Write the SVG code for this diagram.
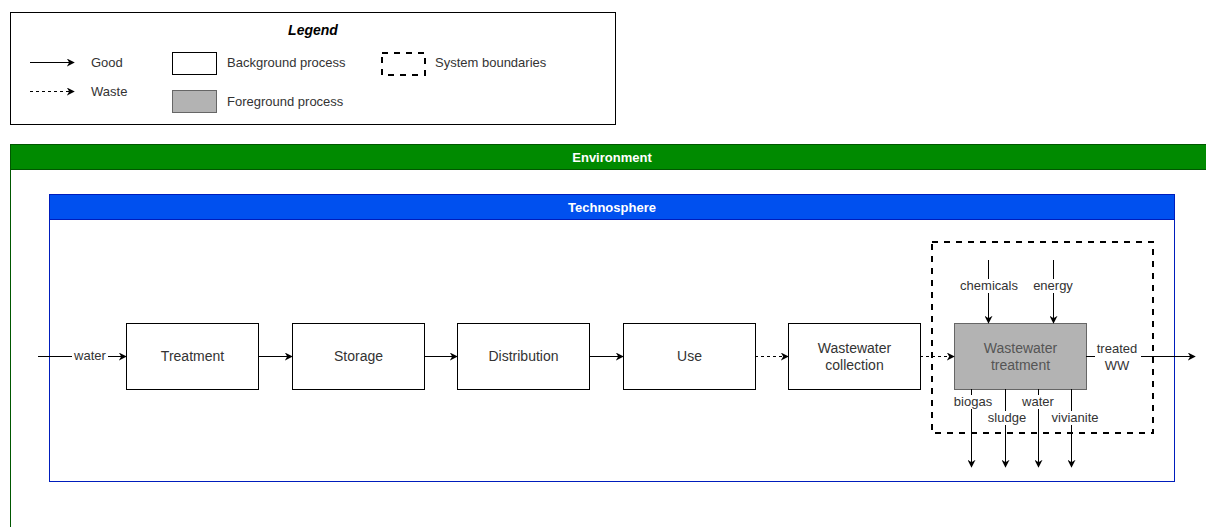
<svg xmlns="http://www.w3.org/2000/svg" width="1206" height="527" viewBox="0 0 1206 527">
  <defs>
    <style>
      text { font-family: "Liberation Sans", Arial, sans-serif; fill: #333; }
      .lbl { font-size: 13px; text-anchor: middle; }
      .node { font-size: 14px; text-anchor: middle; }
      .leg { font-size: 13px; }
      .hdr { font-size: 13px; font-weight: bold; fill: #fff; text-anchor: middle; }
      .box { fill: #fff; stroke: #000; stroke-width: 1; }
      .fg { fill: #b3b3b3; stroke: #666; stroke-width: 1; }
      .good { fill: none; stroke: #000; stroke-width: 1; marker-end: url(#arr); }
      .waste { fill: none; stroke: #000; stroke-width: 1; stroke-dasharray: 3 3; marker-end: url(#arr); }
      .bound { fill: none; stroke: #000; stroke-width: 2; stroke-dasharray: 6 6; }
      .bg { fill: #fff; }
    </style>
    <marker id="arr" viewBox="0 0 10 10" refX="9" refY="5" markerWidth="8" markerHeight="8" markerUnits="userSpaceOnUse" orient="auto">
      <path d="M0,0 L10,5 L0,10 L3,5 Z" fill="#000"/>
    </marker>
  </defs>

  <!-- legend -->
  <g id="legend">
    <rect x="10.5" y="12.5" width="605" height="112" fill="#fff" stroke="#000"/>
    <text x="313" y="35" style="font-size:14px;font-weight:bold;font-style:italic;fill:#000" text-anchor="middle">Legend</text>
    <path class="good" d="M30,62.5 H74"/>
    <text class="leg" x="91" y="67">Good</text>
    <path class="waste" d="M30,91.5 H74"/>
    <text class="leg" x="91" y="96">Waste</text>
    <rect class="box" x="172.5" y="52.5" width="44" height="22"/>
    <text class="leg" x="227" y="67">Background process</text>
    <rect class="fg" x="172.5" y="90.5" width="44" height="22"/>
    <text class="leg" x="227" y="106">Foreground process</text>
    <rect class="bound" x="382" y="53" width="43" height="22"/>
    <text class="leg" x="435" y="67">System boundaries</text>
  </g>

  <!-- environment container -->
  <g id="environment">
    <path d="M10.5,170 V527" stroke="#005700" stroke-width="1" fill="none"/>
    <rect x="10.5" y="144.5" width="1200" height="25" fill="#008a00" stroke="#005700"/>
    <text class="hdr" x="612" y="162">Environment</text>
  </g>

  <!-- technosphere container -->
  <g id="technosphere">
    <rect x="49.5" y="194.5" width="1125" height="287" fill="#fff" stroke="#001dbc"/>
    <rect x="49.5" y="194.5" width="1125" height="25" fill="#0050ef" stroke="#001dbc"/>
    <text class="hdr" x="612" y="212">Technosphere</text>
  </g>

  <!-- system boundary -->
  <g id="system-boundary">
    <rect class="bound" x="932" y="242" width="221" height="191"/>
  </g>

  <!-- process nodes -->
  <g id="treatment">
    <rect class="box" x="126.5" y="323.5" width="132" height="66"/>
    <text class="node" x="192.5" y="361">Treatment</text>
  </g>
  <g id="storage">
    <rect class="box" x="292.5" y="323.5" width="132" height="66"/>
    <text class="node" x="358.5" y="361">Storage</text>
  </g>
  <g id="distribution">
    <rect class="box" x="457.5" y="323.5" width="132" height="66"/>
    <text class="node" x="523.5" y="361">Distribution</text>
  </g>
  <g id="use">
    <rect class="box" x="623.5" y="323.5" width="132" height="66"/>
    <text class="node" x="689.5" y="361">Use</text>
  </g>
  <g id="ww-collection">
    <rect class="box" x="788.5" y="323.5" width="132" height="66"/>
    <text class="node" x="854.5" y="353">Wastewater</text>
    <text class="node" x="854.5" y="370">collection</text>
  </g>
  <g id="ww-treatment">
    <rect class="fg" x="954.5" y="323.5" width="132" height="66"/>
    <text class="node" x="1020.5" y="353" style="fill:#555">Wastewater</text>
    <text class="node" x="1020.5" y="370" style="fill:#555">treatment</text>
  </g>

  <!-- connectors -->
  <g id="connectors">
    <path class="good" d="M38,356.5 H126"/>
    <rect class="bg" x="72" y="349" width="36" height="14"/>
    <text class="lbl" x="90" y="360">water</text>

    <path class="good" d="M258,356.5 H292"/>
    <path class="good" d="M424,356.5 H457"/>
    <path class="good" d="M589,356.5 H623"/>
    <path class="waste" d="M755,356.5 H788"/>
    <path class="waste" d="M920,356.5 H954"/>

    <path class="good" d="M988.5,260 V323"/>
    <rect class="bg" x="956" y="279" width="66" height="14"/>
    <text class="lbl" x="989" y="290">chemicals</text>
    <path class="good" d="M1053.5,260 V323"/>
    <rect class="bg" x="1030" y="279" width="48" height="14"/>
    <text class="lbl" x="1053" y="290">energy</text>

    <path class="good" d="M1086,356.5 H1195"/>
    <rect class="bg" x="1095" y="341" width="46" height="30"/>
    <text class="lbl" x="1117" y="353">treated</text>
    <text class="lbl" x="1117" y="370">WW</text>

    <path class="good" d="M971.5,389 V467"/>
    <path class="good" d="M1005.5,389 V467"/>
    <path class="good" d="M1038.5,389 V467"/>
    <path class="good" d="M1071.5,389 V467"/>
    <rect class="bg" x="952" y="395" width="42" height="14"/>
    <text class="lbl" x="973" y="406">biogas</text>
    <rect class="bg" x="986" y="411" width="42" height="14"/>
    <text class="lbl" x="1007" y="422">sludge</text>
    <rect class="bg" x="1019" y="395" width="38" height="14"/>
    <text class="lbl" x="1038" y="406">water</text>
    <rect class="bg" x="1048" y="411" width="54" height="14"/>
    <text class="lbl" x="1075" y="422">vivianite</text>
  </g>
</svg>
